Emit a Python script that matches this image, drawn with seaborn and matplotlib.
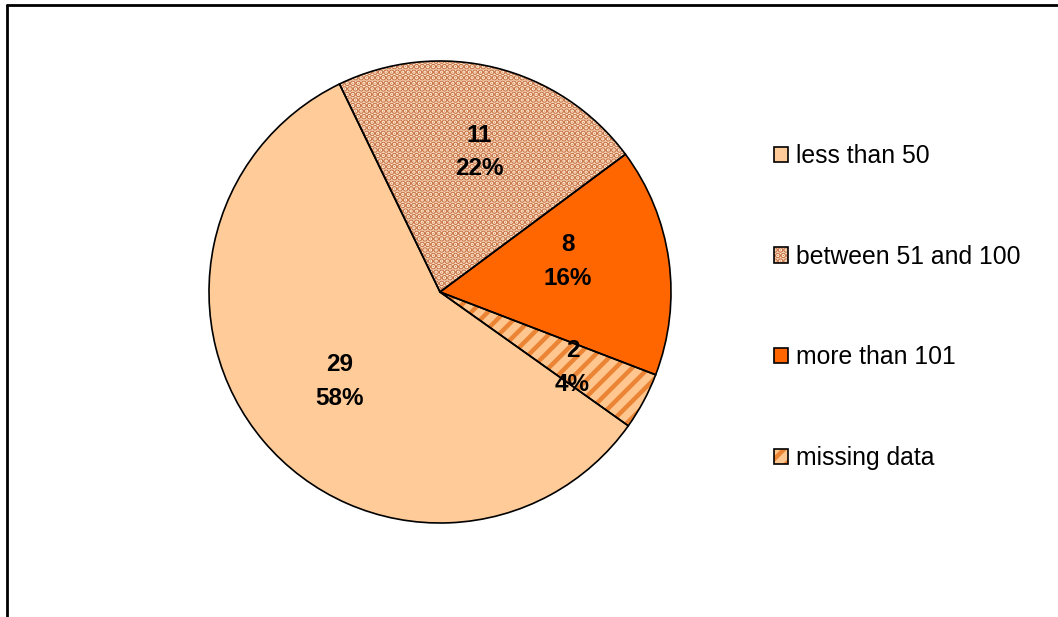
import matplotlib
matplotlib.use("Agg")
import numpy as np
import matplotlib.pyplot as plt
from matplotlib.patches import Patch
from matplotlib.lines import Line2D
import seaborn as sns

# Fleet size breakdown
categories = ["less than 50", "between 51 and 100", "more than 101", "missing data"]
counts = [29, 11, 8, 2]

fill_colors = ["#FFCC99", "#FFEAD0", "#FF6600", "#FFC78F"]
hatch_colors = ["#FFCC99", "#C87448", "#FF6600", "#EB8535"]
hatches = [None, "...", None, "//"]

# label placement inside each slice: radial distance and angle nudge (degrees)
label_dist = [0.58, 0.63, 0.57, 0.66]
label_nudge = [1.5, -2.0, 5.5, -1.5]

sns.set_theme(style="white")
plt.rcParams["font.family"] = ["Liberation Sans", "DejaVu Sans"]
plt.rcParams["text.color"] = "black"
plt.rcParams["hatch.linewidth"] = 3.2

W, H = 1058, 617
fig = plt.figure(figsize=(W / 100, H / 100), dpi=100)
fig.patch.set_facecolor("white")

cx, cy, r = 440, 292, 231
ax = fig.add_axes([(cx - r) / W, (H - cy - r) / H, 2 * r / W, 2 * r / H])

total = sum(counts)
start = -35.4

# Filled and hatched layer
wedges, _ = ax.pie(counts, colors=fill_colors, startangle=start, counterclock=False,
                   wedgeprops=dict(linewidth=0))
for w, hc, h in zip(wedges, hatch_colors, hatches):
    w.set_edgecolor(hc)
    if h:
        w.set_hatch(h)

# Outline layer with value labels
def fmt(pct):
    n = int(round(pct * total / 100.0))
    return f"{n}\n{pct:.0f}%"

outline, _, autotexts = ax.pie(counts, colors=["none"] * 4, startangle=start,
                               counterclock=False, autopct=fmt, pctdistance=0.6,
                               wedgeprops=dict(edgecolor="black", linewidth=1.2,
                                               facecolor="none"))
for w, t, d, nd in zip(outline, autotexts, label_dist, label_nudge):
    mid = np.deg2rad((w.theta1 + w.theta2) / 2 + nd)
    t.set_position((d * np.cos(mid), d * np.sin(mid)))
    t.set_fontsize(17.5)
    t.set_fontweight("bold")
    t.set_color("black")
    t.set_linespacing(1.6)
ax.set_xlim(-1, 1)
ax.set_ylim(-1, 1)
ax.set_axis_off()

# Legend with hatched square markers
handles = []
for fc, hc, h in zip(fill_colors, hatch_colors, hatches):
    base = Patch(facecolor=fc, edgecolor=hc, hatch=h, linewidth=0)
    edge = Patch(facecolor="none", edgecolor="black", linewidth=1.2)
    handles.append((base, edge))
leg = fig.legend(handles, categories, loc="center left",
                 bbox_to_anchor=(774 / W, 1 - 307 / H), frameon=False,
                 fontsize=17.8, labelspacing=3.1, handlelength=0.58,
                 handleheight=0.58, handletextpad=0.33, borderpad=0,
                 borderaxespad=0)
for t in leg.get_texts():
    t.set_color("black")

# Chart area border (top and left edges)
fig.add_artist(Line2D([7 / W, 1.0], [1 - 5 / H, 1 - 5 / H], color="black",
                      linewidth=2, transform=fig.transFigure))
fig.add_artist(Line2D([7 / W, 7 / W], [0.0, 1 - 5 / H], color="black",
                      linewidth=2, transform=fig.transFigure))

fig.savefig("out.png", dpi=100, facecolor="white")
